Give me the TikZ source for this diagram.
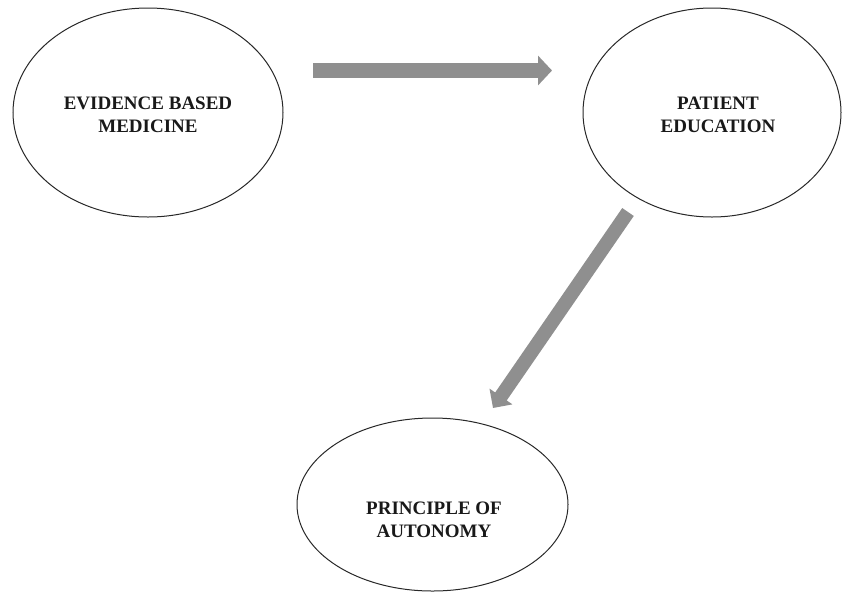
\documentclass[tikz,border=0pt]{standalone}
\usepackage{fontspec}
\setmainfont{Liberation Serif}
\usetikzlibrary{shapes.geometric,arrows.meta}
\definecolor{arrowgray}{RGB}{143,143,143}
\definecolor{rimcolor}{RGB}{40,40,40}
\tikzset{
  bubble/.style={draw=rimcolor, line width=1pt, ellipse, inner sep=0pt, fill=white},
  caption/.style={align=center, inner sep=0pt, text=black!90,
    font=\bfseries\fontsize{19}{23}\selectfont},
  flow/.style={draw=arrowgray, line width=15pt,
    -{Triangle[length=14pt, width=29pt, fill=arrowgray]}, shorten >=0pt},
}
\begin{document}
\begin{tikzpicture}[x=1pt, y=-1pt]
  \useasboundingbox (0,0) rectangle (842,592);
  \fill[white] (0,0) rectangle (842,592);

  % the three concepts
  \node[bubble, minimum width=270pt, minimum height=209pt] (ebm) at (148,112.5) {};
  \node[bubble, minimum width=258pt, minimum height=209pt] (edu) at (712,112.5) {};
  \node[bubble, minimum width=271pt, minimum height=173pt] (auto) at (432.5,504.5) {};

  \node[caption] (ebmtext) at (148,114.5) {EVIDENCE BASED\\MEDICINE};
  \node[caption] (edutext) at (718,114.5) {PATIENT\\EDUCATION};
  \node[caption] (autotext) at (434,519.5) {PRINCIPLE OF\\AUTONOMY};

  % ends of the flow arrows
  \coordinate (ebmout) at (313,70.5);
  \coordinate (eduin) at (552,70.5);
  \coordinate (eduout) at (628,212);
  \coordinate (autoin) at (493,408);

  \draw[flow] (ebmout) -- (eduin);
  \draw[flow, line width=14pt, -{Triangle[length=14pt, width=27pt, fill=arrowgray]}] (eduout) -- (autoin);
\end{tikzpicture}
\end{document}
